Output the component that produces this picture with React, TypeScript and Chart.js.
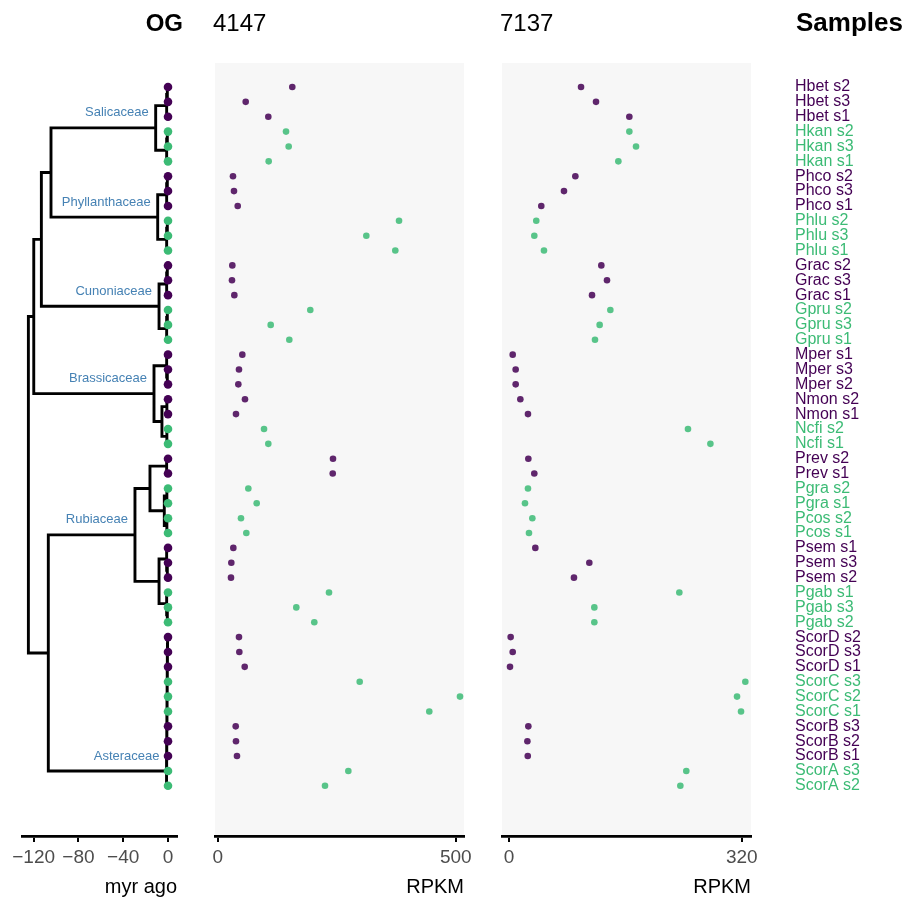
import React, { useEffect, useRef } from 'react';
import { Chart, registerables } from 'chart.js';

Chart.register(...registerables);

const FONT = "'Liberation Sans', Arial, Helvetica, sans-serif";
const PURPLE = '#440154';
const GREEN = '#3CBB75';
const PURPLE_A = 'rgba(68,1,84,0.85)';
const GREEN_A = 'rgba(60,187,117,0.85)';
const PANEL_BG = '#F7F7F7';
const FAMILY_COLOR = '#4682B4';

// ---------- data ----------
const samples = [
  'Hbet s2', 'Hbet s3', 'Hbet s1', 'Hkan s2', 'Hkan s3', 'Hkan s1',
  'Phco s2', 'Phco s3', 'Phco s1', 'Phlu s2', 'Phlu s3', 'Phlu s1',
  'Grac s2', 'Grac s3', 'Grac s1', 'Gpru s2', 'Gpru s3', 'Gpru s1',
  'Mper s1', 'Mper s3', 'Mper s2', 'Nmon s2', 'Nmon s1', 'Ncfi s2', 'Ncfi s1',
  'Prev s2', 'Prev s1', 'Pgra s2', 'Pgra s1', 'Pcos s2', 'Pcos s1',
  'Psem s1', 'Psem s3', 'Psem s2', 'Pgab s1', 'Pgab s3', 'Pgab s2',
  'ScorD s2', 'ScorD s3', 'ScorD s1', 'ScorC s3', 'ScorC s2', 'ScorC s1',
  'ScorB s3', 'ScorB s2', 'ScorB s1', 'ScorA s3', 'ScorA s2',
];

const purpleSpecies = ['Hbet', 'Phco', 'Grac', 'Mper', 'Nmon', 'Prev', 'Psem', 'ScorD', 'ScorB'];

const og4147 = [
  156.5, 58.6, 106.1, 143.3, 148.9, 106.9,
  31.9, 34.0, 41.8, 380.7, 312.0, 372.9,
  30.5, 29.8, 34.7, 194.3, 111.1, 150.2,
  51.5, 44.5, 43.1, 57.1, 38.2, 97.1, 106.1,
  242.0, 241.4, 64.1, 81.7, 48.7, 59.9,
  32.6, 28.4, 27.7, 233.6, 164.9, 202.7,
  44.5, 45.2, 56.5, 298.1, 508.8, 444.3,
  37.6, 38.2, 40.3, 274.2, 225.2,
];

const og7137 = [
  99.0, 119.6, 165.4, 165.4, 174.6, 150.3,
  91.2, 75.6, 44.4, 37.5, 34.8, 48.1,
  126.9, 134.7, 114.1, 139.3, 124.6, 118.2,
  5.1, 9.2, 9.2, 15.6, 26.1, 246.0, 276.8,
  26.6, 34.8, 26.1, 22.0, 32.1, 27.5,
  36.2, 110.4, 89.3, 234.1, 117.3, 117.3,
  2.3, 5.1, 1.4, 324.8, 313.4, 318.9,
  26.6, 25.3, 25.8, 243.7, 235.5,
];

const ogNames = ['4147', '7137'];
const treeTicks = [-120, -80, -40, 0];
const ticks4147 = [0, 500];
const ticks7137 = [0, 320];

// tree: node ages in million years (myr ago)
const N = (age: number, children: any[], label?: string) => ({ age, children, label });

const tree = N(124.7, [
  N(119.9, [
    N(113.1, [
      N(104.5, [
        N(11.0, [
          N(1.2, [N(0.6, ['Hbet s2', 'Hbet s3']), 'Hbet s1']),
          N(1.2, [N(0.6, ['Hkan s2', 'Hkan s3']), 'Hkan s1']),
        ], 'Salicaceae'),
        N(9.2, [
          N(1.2, [N(0.6, ['Phco s2', 'Phco s3']), 'Phco s1']),
          N(1.2, [N(0.6, ['Phlu s2', 'Phlu s3']), 'Phlu s1']),
        ], 'Phyllanthaceae'),
      ]),
      N(8.0, [
        N(1.2, [N(0.6, ['Grac s2', 'Grac s3']), 'Grac s1']),
        N(1.2, [N(0.6, ['Gpru s2', 'Gpru s3']), 'Gpru s1']),
      ], 'Cunoniaceae'),
    ]),
    N(12.5, [
      N(1.2, ['Mper s1', N(0.6, ['Mper s3', 'Mper s2'])]),
      N(5.4, [N(1.0, ['Nmon s2', 'Nmon s1']), N(1.0, ['Ncfi s2', 'Ncfi s1'])]),
    ], 'Brassicaceae'),
  ]),
  N(106.9, [
    N(29.5, [
      N(16.1, [
        N(1.2, ['Prev s2', 'Prev s1']),
        N(3.3, [N(1.0, ['Pgra s2', 'Pgra s1']), N(1.0, ['Pcos s2', 'Pcos s1'])]),
      ]),
      N(8.0, [
        N(1.2, ['Psem s1', N(0.6, ['Psem s3', 'Psem s2'])]),
        N(1.2, ['Pgab s1', N(0.6, ['Pgab s3', 'Pgab s2'])]),
      ]),
    ], 'Rubiaceae'),
    N(1.3, [
      N(1.2, [
        N(1.1, [
          N(1.0, [
            N(0.9, [
              N(0.8, [
                N(0.7, [
                  N(0.6, [
                    N(0.5, [N(0.4, ['ScorD s2', 'ScorD s3']), 'ScorD s1']),
                    'ScorC s3']),
                  'ScorC s2']),
                'ScorC s1']),
              'ScorB s3']),
            'ScorB s2']),
          'ScorB s1']),
        'ScorA s3']),
      'ScorA s2'], 'Asteraceae'),
  ]),
]);

// ---------- helpers ----------
const speciesOf = (s: string) => s.split(' ')[0];
const colorOf = (s: string) => (purpleSpecies.includes(speciesOf(s)) ? PURPLE : GREEN);
const colorOfA = (s: string) => (purpleSpecies.includes(speciesOf(s)) ? PURPLE_A : GREEN_A);

const Y_MIN = -1.614;
const Y_MAX = 50.376;

function layoutTree(root: any) {
  const pts: any[] = [];
  const labels: any[] = [];
  const walk = (n: any): { x: number; y: number } => {
    if (typeof n === 'string') return { x: 0, y: samples.indexOf(n) };
    const kids = n.children.map(walk);
    const x = -n.age;
    const ys = kids.map((k: any) => k.y);
    const y = ys.reduce((a: number, b: number) => a + b, 0) / ys.length;
    pts.push({ x, y: Math.min(...ys) }, { x, y: Math.max(...ys) }, { x: null, y: null });
    kids.forEach((k: any) => {
      pts.push({ x, y: k.y }, { x: k.x, y: k.y }, { x: null, y: null });
    });
    if (n.label) labels.push({ label: n.label, x, y });
    return { x, y };
  };
  walk(root);
  return { pts, labels };
}

const textPlugin = (items: any[]) => ({
  id: 'titles',
  afterDraw(chart: any) {
    const ctx = chart.ctx;
    const a = chart.chartArea;
    ctx.save();
    items.forEach((it) => {
      ctx.font = `${it.bold ? 'bold ' : ''}${it.size}px ${FONT}`;
      ctx.fillStyle = '#000';
      ctx.textAlign = it.align;
      ctx.textBaseline = 'alphabetic';
      ctx.fillText(it.text, it.x(a, chart), it.y);
    });
    ctx.restore();
  },
});

const bgPlugin = {
  id: 'panelBg',
  beforeDraw(chart: any) {
    const a = chart.chartArea;
    const ctx = chart.ctx;
    ctx.save();
    ctx.fillStyle = PANEL_BG;
    ctx.fillRect(a.left, a.top, a.right - a.left, a.bottom - a.top);
    ctx.restore();
  },
};

const fmtTick = (v: number) => (v < 0 ? '\u2212' + Math.abs(v) : String(v));

const xAxis = (min: number, max: number, tickVals: number[], title: string) => ({
  type: 'linear',
  position: 'bottom',
  min,
  max,
  afterBuildTicks: (s: any) => {
    s.ticks = tickVals.map((v) => ({ value: v }));
  },
  afterFit: (s: any) => {
    s.height = 67;
  },
  grid: {
    display: true,
    drawOnChartArea: false,
    drawTicks: true,
    tickLength: 6,
    color: '#000',
    tickColor: '#000',
    lineWidth: 2,
  },
  border: { display: true, color: '#000', width: 2.7 },
  ticks: {
    color: '#4D4D4D',
    font: { family: FONT, size: 19 },
    padding: 4,
    maxRotation: 0,
    autoSkip: false,
    callback: (v: any) => fmtTick(Number(v)),
  },
  title: {
    display: true,
    text: title,
    align: 'end',
    color: '#000',
    font: { family: FONT, size: 20 },
    padding: { top: 0, bottom: 4 },
  },
});

const hiddenY = {
  type: 'linear',
  reverse: true,
  min: Y_MIN,
  max: Y_MAX,
  display: false,
};

const baseOptions = (padding: any) => ({
  responsive: false,
  maintainAspectRatio: false,
  animation: false,
  devicePixelRatio: 1,
  events: [],
  layout: { padding },
  plugins: { legend: { display: false }, tooltip: { enabled: false }, title: { display: false } },
});

export default function App() {
  const treeRef = useRef<HTMLCanvasElement>(null);
  const p1Ref = useRef<HTMLCanvasElement>(null);
  const p2Ref = useRef<HTMLCanvasElement>(null);

  useEffect(() => {
    const { pts, labels } = layoutTree(tree);

    const familyPlugin = {
      id: 'familyLabels',
      afterDatasetsDraw(chart: any) {
        const ctx = chart.ctx;
        const xs = chart.scales.x;
        const ys = chart.scales.y;
        ctx.save();
        ctx.font = `13px ${FONT}`;
        ctx.fillStyle = FAMILY_COLOR;
        ctx.textAlign = 'right';
        ctx.textBaseline = 'middle';
        labels.forEach((l: any) => {
          ctx.fillText(l.label, xs.getPixelForValue(l.x) - 7, ys.getPixelForValue(l.y) - 15);
        });
        ctx.restore();
      },
    };

    const treeChart = new Chart(treeRef.current as any, {
      type: 'scatter',
      data: {
        datasets: [
          {
            type: 'scatter',
            data: samples.map((s, i) => ({ x: 0, y: i })),
            pointRadius: 4.3,
            pointHoverRadius: 4.3,
            pointBorderWidth: 0,
            pointBackgroundColor: samples.map(colorOf),
          },
          {
            type: 'line',
            data: pts,
            borderColor: '#000',
            borderWidth: 2.9,
            pointRadius: 0,
            fill: false,
            tension: 0,
            spanGaps: false,
            borderCapStyle: 'square',
            borderJoinStyle: 'miter',
          },
        ],
      } as any,
      options: {
        ...baseOptions({ left: 22, right: 23, top: 63, bottom: 0 }),
        scales: {
          x: xAxis(-130.4, 8.04, treeTicks, 'myr ago'),
          y: hiddenY,
        },
      } as any,
      plugins: [
        familyPlugin,
        textPlugin([{ text: 'OG', bold: true, size: 24, align: 'right', x: (a: any) => a.right + 6, y: 31 }]),
      ],
    });

    const panel = (canvas: any, values: number[], min: number, max: number, tickVals: number[], name: string, padding: any, withLabels: boolean) => {
      const extra = withLabels
        ? [{ text: 'Samples', bold: true, size: 26, align: 'left', x: (a: any) => a.right + 45, y: 31 }]
        : [];
      const yScale = withLabels
        ? {
            type: 'linear',
            reverse: true,
            min: Y_MIN,
            max: Y_MAX,
            position: 'right',
            afterBuildTicks: (s: any) => {
              s.ticks = samples.map((_, i) => ({ value: i }));
            },
            afterFit: (s: any) => {
              s.width = 156;
            },
            grid: { display: false, drawTicks: false },
            border: { display: false },
            ticks: {
              autoSkip: false,
              padding: 44,
              font: { family: FONT, size: 16 },
              color: (ctx: any) => colorOf(samples[ctx.index] || samples[0]),
              callback: (v: any) => samples[Number(v)],
            },
          }
        : hiddenY;
      return new Chart(canvas, {
        type: 'scatter',
        data: {
          datasets: [
            {
              data: values.map((v, i) => ({ x: v, y: i })),
              pointRadius: 3.3,
              pointHoverRadius: 3.3,
              pointBorderWidth: 0,
              pointBackgroundColor: samples.map(colorOfA),
            },
          ],
        } as any,
        options: {
          ...baseOptions(padding),
          scales: {
            x: xAxis(min, max, tickVals, 'RPKM'),
            y: yScale,
          },
        } as any,
        plugins: [
          bgPlugin,
          textPlugin([{ text: name, bold: false, size: 24, align: 'left', x: (a: any) => a.left - 2, y: 31 }, ...extra]),
        ],
      });
    };

    const c1 = panel(p1Ref.current, og4147, -5.9, 517.2, ticks4147, ogNames[0], { left: 25, right: 26, top: 63, bottom: 0 }, false);
    const c2 = panel(p2Ref.current, og7137, -9.6, 332.6, ticks7137, ogNames[1], { left: 22, right: 0, top: 63, bottom: 0 }, true);

    return () => {
      treeChart.destroy();
      c1.destroy();
      c2.destroy();
    };
  }, []);

  const wrap: any = { position: 'absolute', left: 0, top: 0, width: 907, height: 903, background: '#fff', overflow: 'hidden' };
  const cv = (left: number, width: number): any => ({ position: 'absolute', left, top: 0, width, height: 903 });

  return (
    <div style={wrap}>
      <canvas ref={treeRef} width={200} height={903} style={cv(0, 200)} />
      <canvas ref={p1Ref} width={300} height={903} style={cv(190, 300)} />
      <canvas ref={p2Ref} width={427} height={903} style={cv(480, 427)} />
    </div>
  );
}
